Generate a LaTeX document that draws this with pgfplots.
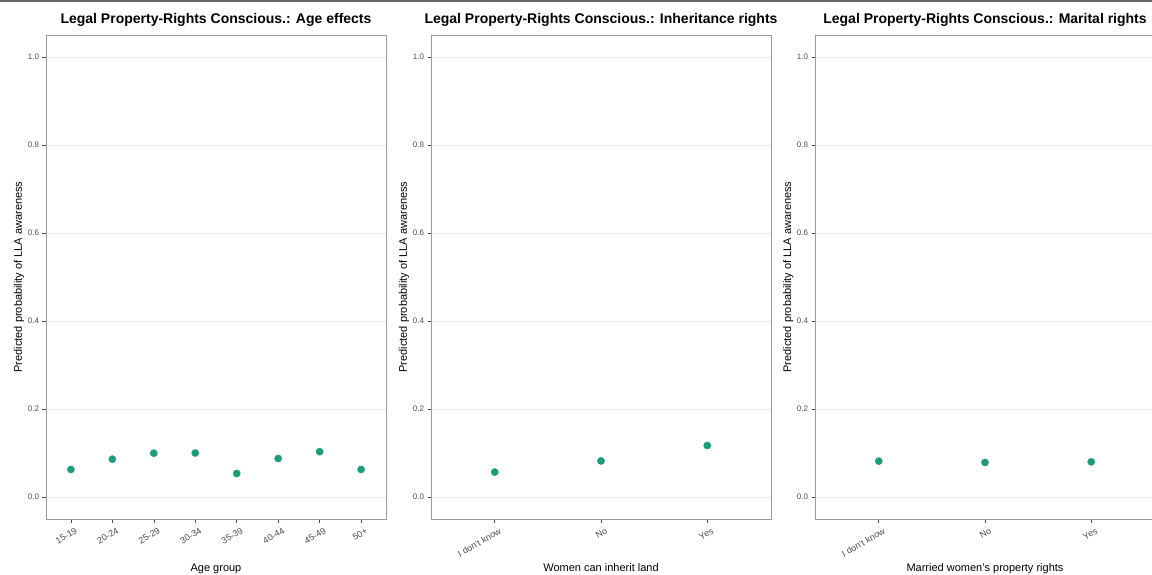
\documentclass[border=0pt]{standalone}
\usepackage{pgfplots}
\pgfplotsset{compat=1.18}
\usepackage{fontspec}
\setmainfont{Liberation Sans}
\definecolor{ptgreen}{HTML}{1B9E77}
\definecolor{gridc}{HTML}{EBEBEB}
\definecolor{framec}{HTML}{9A9A9A}
\definecolor{tickc}{HTML}{4D4D4D}
\pgfplotsset{
  every axis title shift=0pt,
  panel/.style={
    scale only axis, width=340pt, height=484pt,
    anchor=south west,
    ymin=-0.05, ymax=1.05,
    ytick={0,0.2,0.4,0.6,0.8,1.0},
    yticklabel style={/pgf/number format/.cd, fixed, fixed zerofill, precision=1, /tikz/.cd, font=\fontsize{8}{9}\selectfont, text=tickc},
    /pgf/number format/assume math mode=true,
    ymajorgrids, major grid style={gridc, line width=0.6pt},
    axis line style={framec, line width=0.6pt},
    tick align=outside, major tick length=3.5pt,
    tick style={tickc, line width=0.6pt},
    xtick pos=bottom, ytick pos=left,
    xtick=data,
    xticklabel style={rotate=30, anchor=north east, font=\fontsize{9}{10}\selectfont, text=tickc, inner sep=1pt, yshift=-5pt, xshift=2pt},
    title style={at={(axis description cs:0.5,1)}, anchor=base, yshift=11pt, font=\bfseries\fontsize{14}{16}\selectfont},
    xlabel style={at={(axis description cs:0.5,0)}, anchor=base, yshift=-52pt, font=\fontsize{11}{13}\selectfont},
    ylabel style={at={(axis description cs:-0.0706,0.5)}, anchor=base, font=\fontsize{11}{13}\selectfont},
    ylabel={Predicted probability of LLA awareness},
    clip=false,
  },
  pts/.style={only marks, mark=*, mark size=3.6pt, color=ptgreen, mark options={draw=ptgreen, fill=ptgreen}},
}
\begin{document}
\begin{tikzpicture}[x=1pt,y=1pt]
\useasboundingbox (0,0) rectangle (1152,574);
\fill[black!60] (0,572) rectangle (1152,574);
\begin{axis}[panel, at={(46pt,55pt)},
  xmin=-0.6, xmax=7.6,
  xticklabels={15-19,20-24,25-29,30-34,35-39,40-44,45-49,50+},
  title={Legal Property-Rights Conscious.: Age effects},
  xlabel={Age group}]
\addplot[pts] coordinates {(0,0.0626) (1,0.086) (2,0.0996) (3,0.100) (4,0.0535) (5,0.0875) (6,0.103) (7,0.0626)};
\end{axis}
\begin{axis}[panel, at={(431pt,55pt)},
  xmin=-0.6, xmax=2.6,
  xticklabels={I don't know,No,Yes},
  title={Legal Property-Rights Conscious.: Inheritance rights},
  xlabel={Women can inherit land}]
\addplot[pts] coordinates {(0,0.0566) (1,0.082) (2,0.117)};
\end{axis}
\begin{axis}[panel, at={(815pt,55pt)},
  xmin=-0.6, xmax=2.6,
  xticklabels={I don't know,No,Yes},
  title={Legal Property-Rights Conscious.: Marital rights},
  xlabel={Married women's property rights}]
\addplot[pts] coordinates {(0,0.0815) (1,0.0785) (2,0.080)};
\end{axis}
\end{tikzpicture}
\end{document}
